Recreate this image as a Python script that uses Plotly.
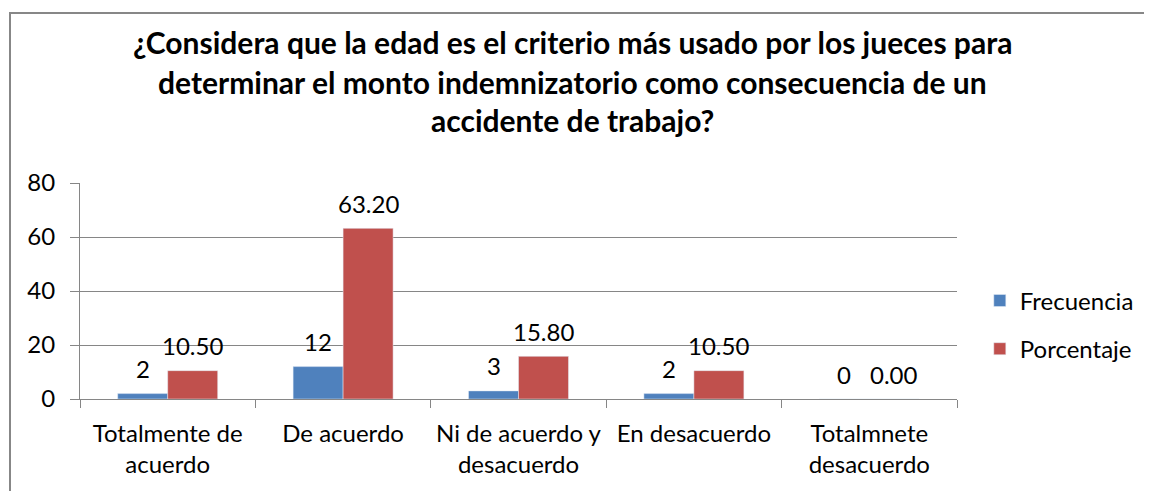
import plotly.graph_objects as go

categories = ["Totalmente de<br>acuerdo", "De acuerdo", "Ni de acuerdo y<br>desacuerdo", "En desacuerdo", "Totalmnete<br>desacuerdo"]
frecuencia = [2, 12, 3, 2, 0]
porcentaje = [10.50, 63.20, 15.80, 10.50, 0.00]
title_lines = [
    "¿Considera que la edad es el criterio más usado por los jueces para",
    "determinar el monto indemnizatorio como consecuencia de un",
    "accidente de trabajo?",
]

FONT = "Lato"
FS = 24
fig = go.Figure()
fig.add_trace(go.Bar(x=categories, y=frecuencia, name="Frecuencia", marker_color="#4F81BD",
                     legendgroup="a"))
fig.add_trace(go.Bar(x=categories, y=porcentaje, name="Porcentaje", marker_color="#C0504D",
                     legendgroup="b"))

# data labels placed through the axes' data coordinates
for cat, fv, pv in zip(categories, frecuencia, porcentaje):
    fig.add_annotation(x=cat, y=fv, text=str(fv), showarrow=False, xshift=-25, yshift=25,
                       yanchor="middle", font=dict(size=FS, family=FONT, color="black"))
    fig.add_annotation(x=cat, y=pv, text=f"{pv:.2f}", showarrow=False, xshift=25, yshift=25,
                       yanchor="middle", font=dict(size=FS, family=FONT, color="black"))

fig.update_layout(
    width=1152, height=491,
    margin=dict(l=72, r=203, t=175, b=100, autoexpand=False),
    paper_bgcolor="white", plot_bgcolor="white",
    barmode="group", bargap=0.43, bargroupgap=0,
    font=dict(family=FONT, size=FS, color="black"),
    showlegend=True,
    legend=dict(x=1.026, y=0.343, xanchor="left", yanchor="middle",
                font=dict(size=FS, family=FONT), tracegroupgap=14, traceorder="grouped"),
    xaxis=dict(type="category", showline=True, linecolor="#868686", linewidth=1,
               ticks="outside", tickson="boundaries", ticklen=8, tickcolor="#868686",
               tickfont=dict(size=FS, family=FONT), ticklabelstandoff=13),
    yaxis=dict(range=[0, 80], dtick=20, showgrid=True, gridcolor="#868686", gridwidth=1,
               showline=True, linecolor="#868686", ticks="outside", ticklen=9, tickcolor="#868686",
               zeroline=False, tickfont=dict(size=FS, family=FONT), ticklabelstandoff=10),
)

for i, (line, ypix) in enumerate(zip(title_lines, [40, 80, 118])):
    fig.add_annotation(text=f"<b>{line}</b>", xref="paper", yref="paper",
                       x=(572 - 80) / 877, y=(397 - ypix) / 216, showarrow=False,
                       xanchor="center", yanchor="middle", font=dict(size=30, family=FONT, color="black"))

fig.add_shape(type="rect", xref="paper", yref="paper",
              x0=(10 - 80) / 877, x1=(1200 - 80) / 877, y0=(399 - 560) / 216, y1=(399 - 13) / 216,
              line=dict(color="#878787", width=2), fillcolor="rgba(0,0,0,0)", layer="below")

fig.write_html("out.html")
